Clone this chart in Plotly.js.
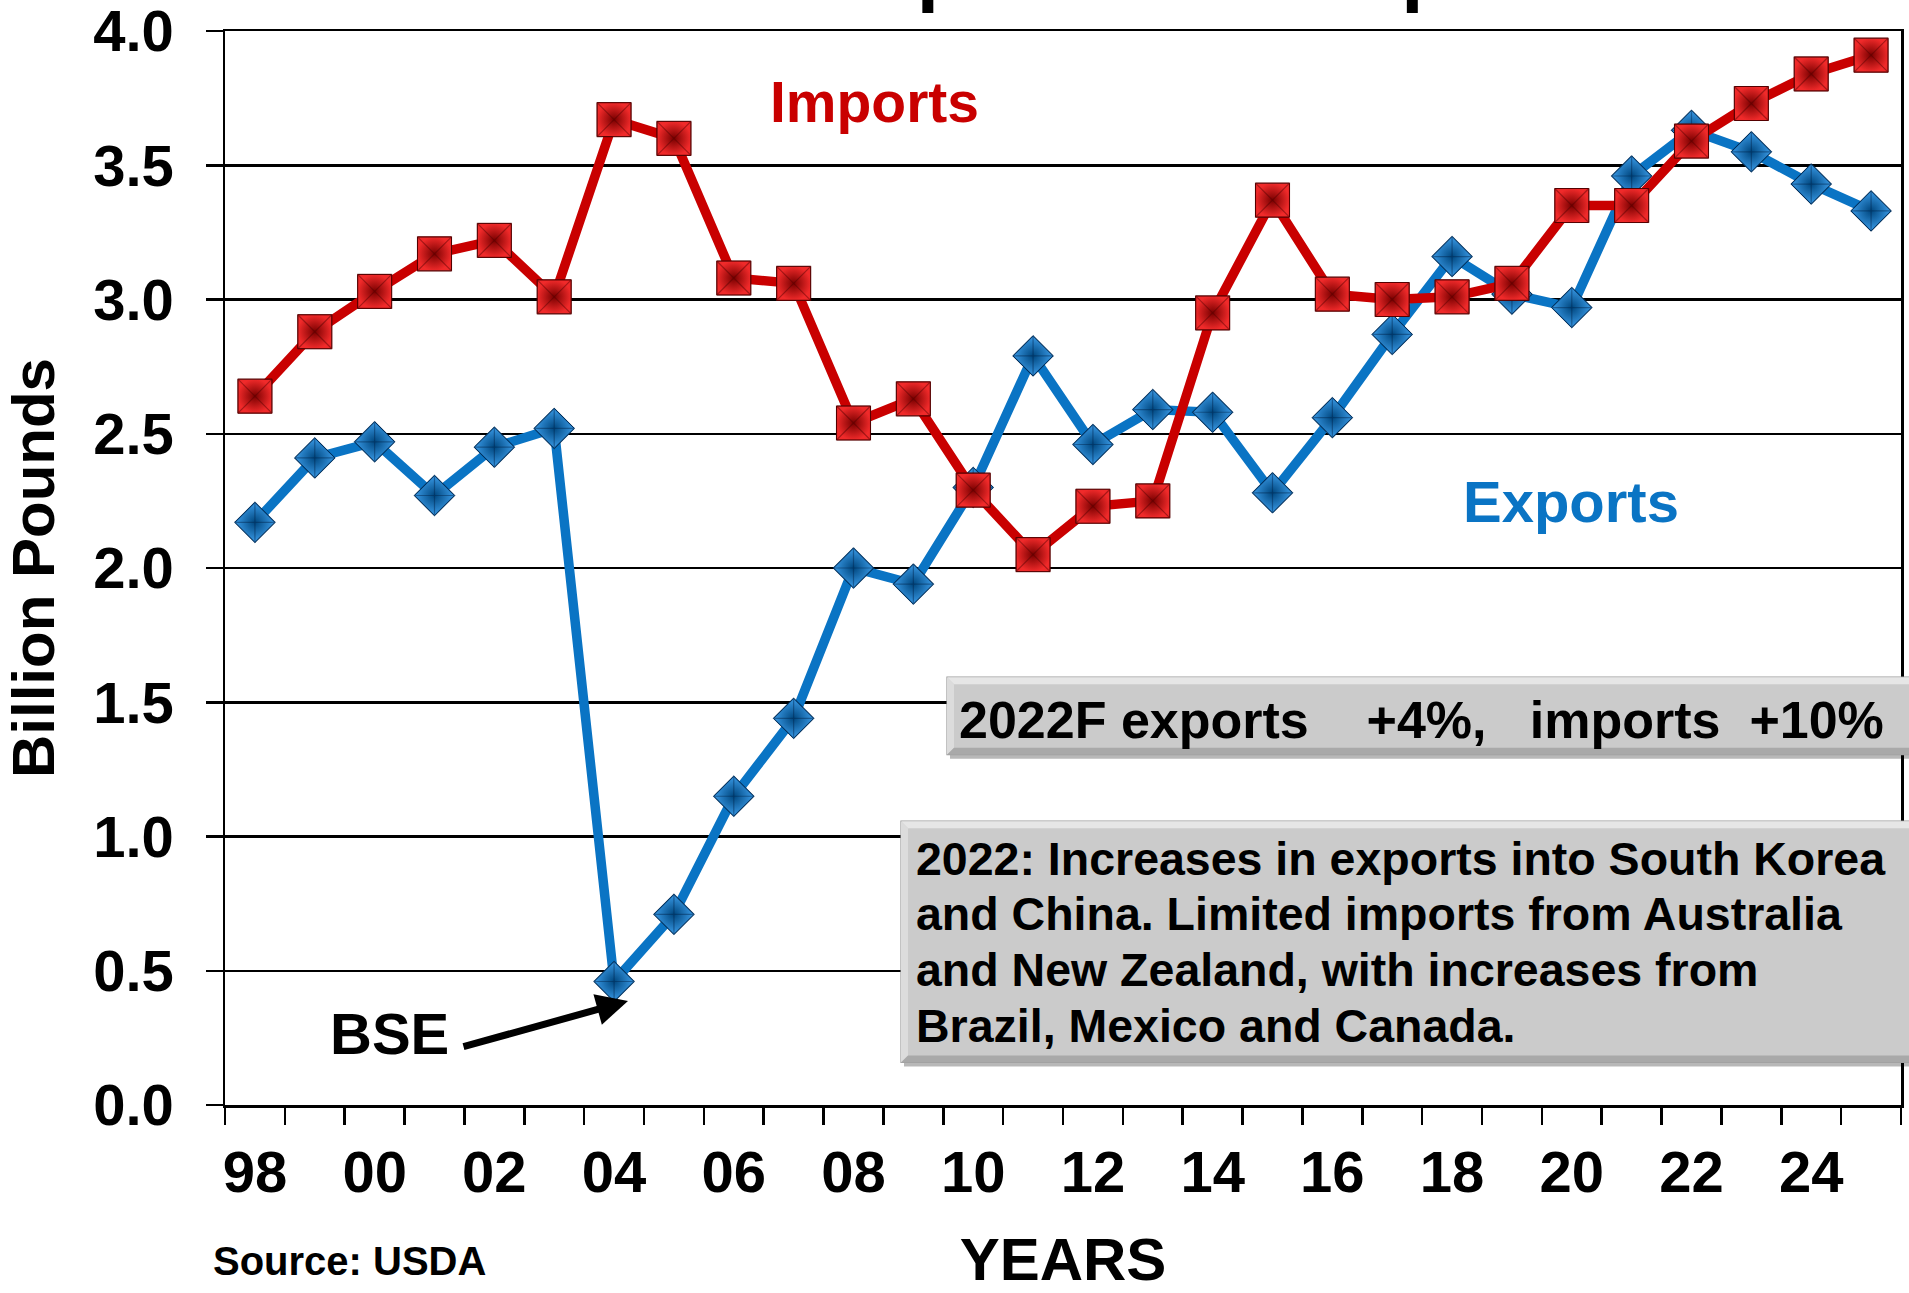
<!DOCTYPE html>
<html>
<head>
<meta charset="utf-8">
<script src="https://cdn.plot.ly/plotly-3.0.1.min.js"></script>
<style>
  html, body { margin: 0; padding: 0; background: #ffffff; }
  #chart { width: 1909px; height: 1293px; }
</style>
</head>
<body>
<div id="chart"></div>
<script>
// ---------------- DATA ----------------
const years = [1998, 1999, 2000, 2001, 2002, 2003, 2004, 2005, 2006, 2007,
               2008, 2009, 2010, 2011, 2012, 2013, 2014, 2015, 2016, 2017,
               2018, 2019, 2020, 2021, 2022, 2023, 2024, 2025];
const imports = [2.64, 2.88, 3.03, 3.17, 3.22, 3.01, 3.67, 3.60, 3.08, 3.06,
                 2.54, 2.63, 2.29, 2.05, 2.23, 2.25, 2.95, 3.37, 3.02, 3.00,
                 3.01, 3.06, 3.35, 3.35, 3.59, 3.73, 3.84, 3.91];
const exportsBeef = [2.17, 2.41, 2.47, 2.27, 2.45, 2.52, 0.46, 0.71, 1.15, 1.44,
                     2.00, 1.94, 2.30, 2.79, 2.46, 2.59, 2.58, 2.28, 2.56, 2.87,
                     3.16, 3.02, 2.97, 3.46, 3.63, 3.55, 3.43, 3.33];
const tickYears  = [1998, 2000, 2002, 2004, 2006, 2008, 2010, 2012, 2014, 2016, 2018, 2020, 2022, 2024];
const tickLabels = ['98', '00', '02', '04', '06', '08', '10', '12', '14', '16', '18', '20', '22', '24'];
const yTickVals  = [0, 0.5, 1, 1.5, 2, 2.5, 3, 3.5, 4];
const yTickText  = ['0.0', '0.5', '1.0', '1.5', '2.0', '2.5', '3.0', '3.5', '4.0'];

const titleText = 'U.S. Beef Imports and Exports';
const yTitle = 'Billion Pounds';
const xTitle = 'YEARS';
const importsLabel = 'Imports';
const exportsLabel = 'Exports';
const bseLabel = 'BSE';
const sourceText = 'Source: USDA';
const box1Text = '2022F exports\u00a0\u00a0\u00a0\u00a0+4%,\u00a0\u00a0\u00a0imports\u00a0\u00a0+10%';
const box2Lines = ['2022: Increases in exports into South Korea',
                   'and China. Limited imports from Australia',
                   'and New Zealand, with increases from',
                   'Brazil, Mexico and Canada.'];

// ---------------- LAYOUT HELPERS ----------------
const W = 1909, H = 1293;
const L = 225, R = 1901, T = 31, B = 1105.5;
const px = x => (x - L) / (R - L);
const py = y => (B - y) / (B - T);
const FONT = 'Liberation Sans, Arial, Helvetica, sans-serif';
const bold = (size, color) => ({ family: FONT, size: size, color: color || '#000000', weight: 'bold' });

const RED = '#c90000', BLUE = '#0a74c4';

const traces = [
  { x: years, y: exportsBeef, type: 'scatter', mode: 'lines+markers', showlegend: false,
    line: { color: BLUE, width: 9.5 },
    marker: { symbol: 'diamond', size: 31, color: '#3a9be8',
              gradient: { type: 'radial', color: '#00477f' },
              line: { color: '#003a6a', width: 1 } } },
  { x: years, y: exportsBeef, type: 'scatter', mode: 'markers', showlegend: false,
    marker: { symbol: 'diamond-cross-open', size: 31, color: 'rgba(0,35,75,0.45)',
              line: { color: 'rgba(0,35,75,0.45)', width: 1.2 } } },
  { x: years, y: imports, type: 'scatter', mode: 'lines+markers', showlegend: false,
    line: { color: RED, width: 9.5 },
    marker: { symbol: 'square', size: 34, color: '#f02a2a',
              gradient: { type: 'radial', color: '#7a0000' },
              line: { color: '#5a0000', width: 1 } } },
  { x: years, y: imports, type: 'scatter', mode: 'markers', showlegend: false,
    marker: { symbol: 'square-x-open', size: 34, color: 'rgba(80,0,0,0.45)',
              line: { color: 'rgba(80,0,0,0.45)', width: 1.2 } } }
];

function boxShapes(x0p, y0p, y1p) {
  const x1p = W + 4, bv = 7;
  return [
    { type: 'rect', xref: 'paper', yref: 'paper', layer: 'above',
      x0: px(x0p + 3), x1: px(x1p), y0: py(y0p + 3), y1: py(y1p + 4),
      fillcolor: 'rgba(0,0,0,0.28)', line: { width: 0 } },
    { type: 'rect', xref: 'paper', yref: 'paper', layer: 'above',
      x0: px(x0p), x1: px(x1p), y0: py(y0p), y1: py(y1p),
      fillcolor: '#cbcbcb', line: { color: '#9a9a9a', width: 1.2 } },
    { type: 'path', xref: 'paper', yref: 'paper', layer: 'above', line: { width: 0 }, fillcolor: '#e6e6e6',
      path: `M${px(x0p)},${py(y0p)} L${px(x1p)},${py(y0p)} L${px(x1p)},${py(y0p + bv)} L${px(x0p + bv)},${py(y0p + bv)} Z` },
    { type: 'path', xref: 'paper', yref: 'paper', layer: 'above', line: { width: 0 }, fillcolor: '#dcdcdc',
      path: `M${px(x0p)},${py(y0p)} L${px(x0p + bv)},${py(y0p + bv)} L${px(x0p + bv)},${py(y1p - bv)} L${px(x0p)},${py(y1p)} Z` },
    { type: 'path', xref: 'paper', yref: 'paper', layer: 'above', line: { width: 0 }, fillcolor: '#a9a9a9',
      path: `M${px(x0p)},${py(y1p)} L${px(x0p + bv)},${py(y1p - bv)} L${px(x1p)},${py(y1p - bv)} L${px(x1p)},${py(y1p)} Z` }
  ];
}

const annotations = [
  { text: titleText, xref: 'paper', yref: 'paper', x: px(448), y: py(15),
    xanchor: 'left', yanchor: 'bottom', showarrow: false, font: bold(80) },
  { text: importsLabel, xref: 'paper', yref: 'paper', x: px(874), y: py(102.5),
    xanchor: 'center', yanchor: 'middle', showarrow: false, font: bold(57, RED) },
  { text: exportsLabel, xref: 'paper', yref: 'paper', x: px(1571), y: py(502),
    xanchor: 'center', yanchor: 'middle', showarrow: false, font: bold(58, BLUE) },
  { text: bseLabel, xref: 'paper', yref: 'paper', x: px(389), y: py(1034),
    xanchor: 'center', yanchor: 'middle', showarrow: false, font: bold(58) },
  { text: '', xref: 'paper', yref: 'paper', x: px(628), y: py(1001.5),
    ax: -166, ay: 46, showarrow: true, arrowhead: 2, arrowsize: 0.9, arrowwidth: 7,
    arrowcolor: '#000000', standoff: 0 },
  { text: box1Text, xref: 'paper', yref: 'paper', x: px(957), y: py(720),
    xanchor: 'left', yanchor: 'middle', showarrow: false, font: bold(52) },
  { text: sourceText, xref: 'paper', yref: 'paper', x: px(211), y: py(1262),
    xanchor: 'left', yanchor: 'middle', showarrow: false, font: bold(40) }
];
const box2Centers = [859, 914.5, 970.5, 1026.5];
box2Lines.forEach((t, i) => annotations.push({
  text: t, xref: 'paper', yref: 'paper', x: px(914), y: py(box2Centers[i]),
  xanchor: 'left', yanchor: 'middle', showarrow: false, font: bold(46.5) }));

const layout = {
  width: W, height: H,
  margin: { l: L, r: W - R, t: T, b: H - B, pad: 0 },
  paper_bgcolor: '#ffffff', plot_bgcolor: '#ffffff',
  showlegend: false,
  font: { family: FONT, color: '#000000' },
  xaxis: {
    type: 'linear', range: [1997.5, 2025.5], fixedrange: true,
    tickvals: tickYears, ticktext: tickLabels, ticks: '',
    tickfont: bold(58), ticklabelstandoff: 15, ticklabeloverflow: 'allow',
    showgrid: false, zeroline: false,
    showline: true, linecolor: '#000000', linewidth: 2.5, mirror: true,
    minor: { tick0: 1997.5, dtick: 1, ticks: 'outside', ticklen: 17, tickwidth: 2.5,
             tickcolor: '#000000', showgrid: false },
    title: { text: xTitle, font: bold(60), standoff: 63 }
  },
  yaxis: {
    range: [0, 4], tickvals: yTickVals, ticktext: yTickText, fixedrange: true,
    ticks: 'outside', ticklen: 17, tickwidth: 2.5, tickcolor: '#000000',
    tickfont: bold(58), ticklabelstandoff: 20, ticklabeloverflow: 'allow',
    showgrid: true, gridcolor: '#000000', gridwidth: 2.5, zeroline: false,
    showline: true, linecolor: '#000000', linewidth: 2.5, mirror: true,
    title: { text: yTitle, font: bold(60), standoff: 22 }
  },
  shapes: [].concat(boxShapes(947, 677.5, 755), boxShapes(901, 821.5, 1063)),
  annotations: annotations
};

Plotly.newPlot('chart', traces, layout, { displayModeBar: false, staticPlot: true });
</script>
</body>
</html>
